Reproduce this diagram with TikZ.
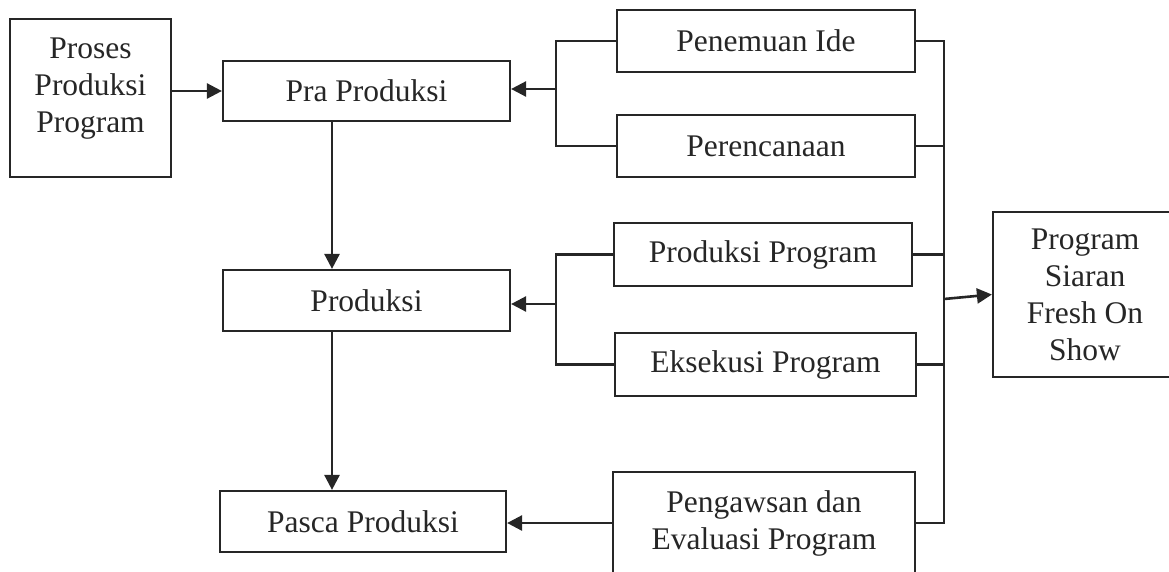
\documentclass[tikz,border=0pt]{standalone}
\usepackage{fontspec}
\setmainfont{Liberation Serif}
\usetikzlibrary{arrows.meta}
\usetikzlibrary{positioning}
\tikzset{
  blok/.style={draw=black!85, line width=2.2pt, align=center, inner sep=0pt, text=black!85},
  panah/.style={-{Triangle[length=15pt,width=15pt]}, line width=2.6pt, draw=black!85},
  garis/.style={line width=2.2pt, draw=black!85}
}

\begin{document}
\begin{tikzpicture}[x=1pt, y=-1pt, every node/.style={font=\fontsize{31.5}{37}\selectfont}]

\useasboundingbox (0,0) rectangle (1169,571);

  % Tahapan produksi (kolom kiri)
  \node[blok, minimum width=161pt, minimum height=158pt, text depth=25pt] (proses) at (90.5,98) {Proses\\Produksi\\Program};
  \node[blok, minimum width=287pt, minimum height=60pt] (pra) at (366.5,91) {Pra Produksi};
  \node[blok, minimum width=287pt, minimum height=61pt] (produksi) at (366.5,300.5) {Produksi};
  \node[blok, minimum width=286pt, minimum height=61pt] (pasca) at (363,521.5) {Pasca Produksi};

  % Kegiatan tiap tahap (kolom tengah)
  \node[blok, minimum width=298pt, minimum height=62pt] (penemuan) at (766,41) {Penemuan Ide};
  \node[blok, minimum width=298pt, minimum height=62pt] (perencanaan) at (766,146) {Perencanaan};
  \node[blok, minimum width=298pt, minimum height=63pt] (prodprog) at (763,254.5) {Produksi Program};
  \node[blok, minimum width=301pt, minimum height=63pt] (eksekusi) at (765.5,364.5) {Eksekusi Program};
  \node[blok, minimum width=302pt, minimum height=102pt] (pengawasan) at (764,523) {Pengawsan dan\\Evaluasi Program};

  % Hasil akhir
  \node[blok, minimum width=184pt, minimum height=165pt] (siaran) at (1085,294.5) {Program\\Siaran\\Fresh On\\Show};

  \coordinate (kol) at (332,0);
  \coordinate (k1) at (556,89);
  \coordinate (k2) at (556,304);
  \coordinate (bus) at (944,0);
  \coordinate (kirim) at (944,299);

  % Alur utama
  \draw[panah] (proses.east |- pra.west) -- (pra.west);
  \draw[panah] (pra.south -| kol) -- (produksi.north -| kol);
  \draw[panah] (produksi.south -| kol) -- (pasca.north -| kol);

  % Kurung kegiatan
  \draw[garis] (penemuan.west) -| (k1) |- (perencanaan.west);
  \draw[panah] (k1) -- (k1 -| pra.east);
  \draw[garis] (prodprog.west) -| (k2) |- (eksekusi.west);
  \draw[panah] (k2) -- (k2 -| produksi.east);
  \draw[panah] (pengawasan.west) -- (pengawasan.west -| pasca.east);

  % Garis kumpul ke kanan
  \draw[garis] (penemuan.east) -- (penemuan.east -| bus) -- (pengawasan.east -| bus) -- (pengawasan.east);
  \foreach \n in {perencanaan, prodprog, eksekusi}
    \draw[garis] (\n.east) -- (\n.east -| bus);
  \draw[panah] (kirim) -- (siaran.west);

\end{tikzpicture}
\end{document}
